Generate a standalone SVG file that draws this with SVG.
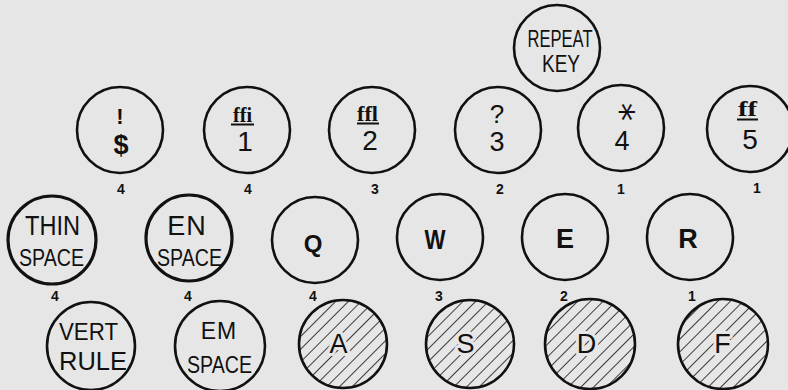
<svg xmlns="http://www.w3.org/2000/svg" width="788" height="390" viewBox="0 0 788 390">
<defs>
<pattern id="hatch" patternUnits="userSpaceOnUse" width="9" height="9" patternTransform="rotate(45)">
<line x1="0" y1="0" x2="0" y2="9" stroke="#111" stroke-width="1.6"/>
</pattern>
<style>
.k{fill:none;stroke:#111;stroke-width:2.6}
.kt{fill:none;stroke:#111;stroke-width:3.2}
.h{fill:url(#hatch);stroke:#111;stroke-width:2.6}
text{font-family:"Liberation Sans","DejaVu Sans",sans-serif;fill:#111;text-anchor:middle}
.big{font-size:28px}
.mid{font-size:24px}
.let{font-size:27px;font-weight:bold}
.hl{font-size:27px;paint-order:stroke;stroke:#e6e6e6;stroke-width:6px;stroke-linejoin:round}
.lig{font-family:"Liberation Serif","DejaVu Serif",serif;font-size:22px;font-weight:bold}
.n{font-size:14px;font-weight:bold}
.ul{stroke:#111;stroke-width:2}
</style>
</defs>
<rect width="788" height="390" fill="#e6e6e6"/>

<g id="repeat">
<circle class="k" cx="557" cy="48" r="43"/>
<text class="mid" x="560" y="47" textLength="65" lengthAdjust="spacingAndGlyphs">REPEAT</text>
<text class="mid" x="561" y="72" textLength="38" lengthAdjust="spacingAndGlyphs">KEY</text>
</g>

<g id="key-dollar">
<circle class="k" cx="120" cy="130" r="43"/>
<text x="120" y="124" style="font-size:22px;font-weight:bold">!</text>
<text x="121" y="154" style="font-size:27px;font-weight:bold">$</text>
<text class="n" x="121" y="194">4</text>
</g>
<g id="key-1">
<circle class="k" cx="247" cy="130" r="43"/>
<text class="lig" x="242.5" y="122" textLength="19" lengthAdjust="spacingAndGlyphs">ffi</text>
<line class="ul" x1="231" y1="124.5" x2="254" y2="124.5"/>
<text class="big" x="245" y="151">1</text>
<text class="n" x="248" y="194">4</text>
</g>
<g id="key-2">
<circle class="k" cx="372" cy="130" r="43"/>
<text class="lig" x="367.5" y="121" textLength="21" lengthAdjust="spacingAndGlyphs">ffl</text>
<line class="ul" x1="357" y1="123.5" x2="379" y2="123.5"/>
<text class="big" x="370" y="150">2</text>
<text class="n" x="375" y="194">3</text>
</g>
<g id="key-3">
<circle class="k" cx="498" cy="130" r="43"/>
<text x="497" y="123" style="font-size:26px">?</text>
<text x="497" y="151" style="font-size:27px">3</text>
<text class="n" x="500" y="194">2</text>
</g>
<g id="key-4">
<circle class="k" cx="621" cy="128" r="43"/>
<text x="0" y="0" transform="translate(621 112) rotate(90)" style="font-family:'DejaVu Sans',sans-serif;font-size:36px;text-anchor:middle;dominant-baseline:central">*</text>
<text x="622" y="150" style="font-size:27px">4</text>
<text class="n" x="621" y="194">1</text>
</g>
<g id="key-5">
<circle class="k" cx="750" cy="129" r="43"/>
<text class="lig" x="747.5" y="116" textLength="19" lengthAdjust="spacingAndGlyphs">ff</text>
<line class="ul" x1="737" y1="119.5" x2="758" y2="119.5"/>
<text class="big" x="750" y="149">5</text>
<text class="n" x="757" y="193">1</text>
</g>

<g id="thin-space">
<circle class="kt" cx="52" cy="240" r="44"/>
<text class="big" x="52.5" y="235" textLength="55" lengthAdjust="spacingAndGlyphs">THIN</text>
<text class="mid" x="51.5" y="266" textLength="65" lengthAdjust="spacingAndGlyphs">SPACE</text>
<text class="n" x="55" y="301">4</text>
</g>
<g id="en-space">
<circle class="kt" cx="189" cy="238" r="43"/>
<text x="187" y="235" style="font-size:27px;letter-spacing:1px">EN</text>
<text class="mid" x="189.5" y="266" textLength="65" lengthAdjust="spacingAndGlyphs">SPACE</text>
<text class="n" x="188" y="301">4</text>
</g>
<g id="key-q">
<circle class="k" cx="315" cy="240" r="43"/>
<text class="let" x="313" y="252" style="font-size:24px">Q</text>
<text class="n" x="313" y="301">4</text>
</g>
<g id="key-w">
<circle class="k" cx="440" cy="237" r="43"/>
<text class="let" x="435" y="249" textLength="21" lengthAdjust="spacingAndGlyphs">W</text>
<text class="n" x="439" y="301">3</text>
</g>
<g id="key-e">
<circle class="k" cx="565" cy="237" r="43"/>
<text class="let" x="565" y="248">E</text>
<text class="n" x="564" y="301">2</text>
</g>
<g id="key-r">
<circle class="k" cx="690" cy="237" r="43"/>
<text class="let" x="688" y="248">R</text>
<text class="n" x="692" y="301">1</text>
</g>

<g id="vert-rule">
<circle class="k" cx="91" cy="346" r="44"/>
<text class="mid" x="88.5" y="340" textLength="59" lengthAdjust="spacingAndGlyphs">VERT</text>
<text class="mid" x="93" y="370" style="font-size:26px" textLength="68" lengthAdjust="spacingAndGlyphs">RULE</text>
</g>
<g id="em-space">
<circle class="k" cx="220" cy="346" r="45"/>
<text x="219" y="339" style="font-size:23px;letter-spacing:1px">EM</text>
<text class="mid" x="219.5" y="373" textLength="65" lengthAdjust="spacingAndGlyphs">SPACE</text>
</g>
<g id="key-a">
<circle class="h" cx="343" cy="344" r="44"/>
<text class="hl" x="338.5" y="353">A</text>
</g>
<g id="key-s">
<circle class="h" cx="470" cy="344" r="44"/>
<text class="hl" x="465.5" y="353">S</text>
</g>
<g id="key-d">
<circle class="h" cx="590" cy="344" r="45"/>
<text class="hl" x="586.5" y="353">D</text>
</g>
<g id="key-f">
<circle class="h" cx="723" cy="344" r="45"/>
<text class="hl" x="722.5" y="353">F</text>
</g>
<g id="connectors"/>
</svg>
